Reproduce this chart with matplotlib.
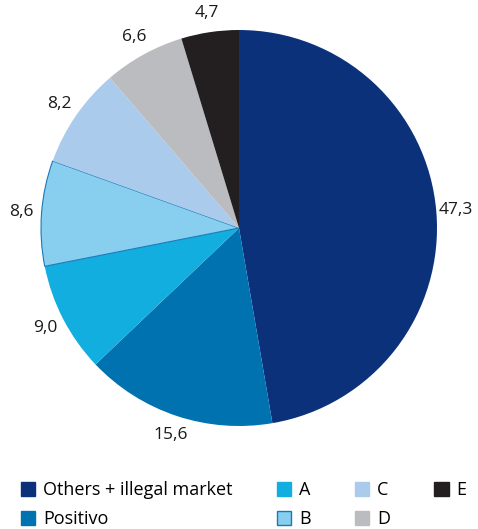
import matplotlib.pyplot as plt

names = ["Others + illegal market", "Positivo", "A", "B", "C", "D", "E"]
shares = [47.3, 15.6, 9.0, 8.6, 8.2, 6.6, 4.7]
colors = ["#0b317b", "#0072b0", "#12aedf", "#87ceef", "#abcbec", "#bbbcbf", "#231f20"]

plt.rcParams["font.family"] = ["Open Sans", "DejaVu Sans"]

fig = plt.figure(figsize=(4.78, 5.29), dpi=100)
# pie centre ~ (239, 228) px, radius ~ 198 px
ax = fig.add_axes([41 / 478, 1 - 426 / 529, 396 / 478, 396 / 529])

labels = [f"{v:.1f}".replace(".", ",") for v in shares]
wedges, texts = ax.pie(shares, colors=colors, startangle=90, counterclock=False,
                       labels=labels, labeldistance=1.1,
                       textprops={"fontsize": 12.5, "color": "#1a1a1a"})
for t in texts:
    t.set_horizontalalignment("center")
    t.set_verticalalignment("center")
for w in wedges:
    w.set_linewidth(0)
# slice B has a thin blue outline
wedges[3].set_edgecolor("#1a7ab8")
wedges[3].set_linewidth(0.8)
ax.set_xlim(-1, 1)
ax.set_ylim(-1, 1)
ax.set_aspect("equal")
ax.axis("off")

handles = []
for i, w in enumerate(wedges):
    h = plt.Rectangle((0, 0), 1, 1, facecolor=colors[i],
                      edgecolor="#1a7ab8" if i == 3 else colors[i], linewidth=1)
    handles.append(h)
fig.legend(handles, names, ncol=4, loc="lower left", bbox_to_anchor=(21 / 478, 1 / 529),
           frameon=False, fontsize=13, handlelength=0.78, handleheight=0.78,
           handletextpad=0.45, columnspacing=2.45, labelspacing=0.6,
           borderpad=0, borderaxespad=0)

fig.savefig("out.png", dpi=100)
